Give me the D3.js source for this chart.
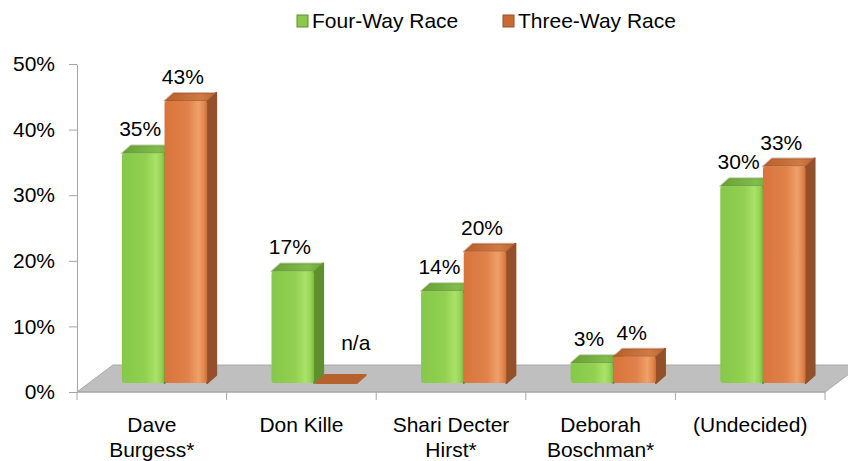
<!DOCTYPE html>
<html>
<head>
<meta charset="utf-8">
<script src="https://cdn.jsdelivr.net/npm/d3@7"></script>
<style>
  body { margin: 0; background: #fff; }
  text { font-family: "Liberation Sans", Arial, sans-serif; fill: #000; }
</style>
</head>
<body>
<script>
// chart values
var categories = ["Dave\nBurgess*", "Don Kille", "Shari Decter\nHirst*", "Deborah\nBoschman*", "(Undecided)"];
var seriesNames = ["Four-Way Race", "Three-Way Race"];
var fourWay = [0.35, 0.17, 0.14, 0.03, 0.30];
var threeWay = [0.43, null, 0.20, 0.04, 0.33];
var yTicks = [0, 0.1, 0.2, 0.3, 0.4, 0.5];

var width = 848, height = 461;
var plotLeft = 77, plotRight = 825, plotTop = 64, plotBottom = 392;
var depthX = 36, depthY = -27;   // floor depth
var barShiftY = -9;              // bars sit a bit behind the front plane
var bdx = 9, bdy = -8;           // bar depth

var svg = d3.select("body").append("svg")
    .attr("width", width).attr("height", height);

var defs = svg.append("defs");
function hGrad(id, stops) {
    var g = defs.append("linearGradient").attr("id", id)
        .attr("x1", "0%").attr("x2", "100%").attr("y1", "0%").attr("y2", "0%");
    stops.forEach(s => g.append("stop").attr("offset", s[0]).attr("stop-color", s[1]));
}
hGrad("gFront", [["0%", "#86c84a"], ["55%", "#92d050"], ["80%", "#aae26a"], ["92%", "#96d454"], ["100%", "#7ab842"]]);
hGrad("oFront", [["0%", "#d8743c"], ["55%", "#e0824a"], ["80%", "#f0a06a"], ["92%", "#e3884e"], ["100%", "#cc7038"]]);
hGrad("gTop", [["0%", "#68a034"], ["70%", "#82bc4c"], ["100%", "#6ea63a"]]);
hGrad("oTop", [["0%", "#b85e2a"], ["70%", "#d07a44"], ["100%", "#c06630"]]);

var colors = {
    "Four-Way Race": { front: "url(#gFront)", top: "url(#gTop)", side: "#5f8f2f", legend: "#8cc84c" },
    "Three-Way Race": { front: "url(#oFront)", top: "url(#oTop)", side: "#94502a", legend: "#c86a34" }
};

var x = d3.scaleBand().domain(categories).range([plotLeft, plotRight]);
var xs = d3.scaleBand().domain(seriesNames).range([x.bandwidth() * 0.3, x.bandwidth() * 0.87]);
var y = d3.scaleLinear().domain([0, 0.5]).range([plotBottom, plotTop]);

// floor
svg.append("path")
    .attr("d", d3.line()([[plotLeft, plotBottom], [plotRight, plotBottom], [plotRight + depthX, plotBottom + depthY], [plotLeft + depthX, plotBottom + depthY]]) + "Z")
    .attr("fill", "#bfbfbf")
    .attr("stroke", "#a8a8a8")
    .attr("stroke-width", 1);

// y axis
var yAxis = svg.append("g")
    .attr("transform", "translate(" + plotLeft + ",0)")
    .call(d3.axisLeft(y).tickValues(yTicks).tickFormat(d3.format(".0%")).tickSize(8).tickSizeOuter(0).tickPadding(14));
yAxis.select(".domain").attr("stroke", "#a6a6a6");
yAxis.selectAll(".tick line").attr("stroke", "#a6a6a6");
yAxis.selectAll(".tick text").attr("font-size", 21).attr("font-family", "Liberation Sans, Arial, sans-serif").attr("fill", "#000");

// x axis line + boundary ticks
svg.append("line")
    .attr("x1", plotLeft).attr("x2", plotRight).attr("y1", plotBottom).attr("y2", plotBottom)
    .attr("stroke", "#a6a6a6");
var bounds = categories.map(c => x(c)).concat([plotRight]);
svg.selectAll(".xtick").data(bounds).enter().append("line")
    .attr("x1", d => d).attr("x2", d => d)
    .attr("y1", plotBottom).attr("y2", plotBottom + 8)
    .attr("stroke", "#a6a6a6");

// x labels
var xl = svg.selectAll(".xlab").data(categories).enter().append("text")
    .attr("text-anchor", "middle")
    .attr("font-size", 21);
xl.each(function(d) {
    var lines = d.split("\n");
    var t = d3.select(this);
    lines.forEach((ln, i) => {
        t.append("tspan")
            .attr("x", x(d) + x.bandwidth() / 2)
            .attr("y", 432 + i * 25)
            .text(ln);
    });
});

// bars
var rows = [];
categories.forEach((c, i) => {
    rows.push({ cat: c, series: seriesNames[0], value: fourWay[i] });
    rows.push({ cat: c, series: seriesNames[1], value: threeWay[i] });
});

var base = plotBottom + barShiftY;
var bw = xs.bandwidth();

var bars = svg.selectAll(".bar").data(rows).enter().append("g");
bars.each(function(d) {
    var g = d3.select(this);
    var x0 = x(d.cat) + xs(d.series);
    var col = colors[d.series];
    if (d.value === null) {
        g.append("path")
            .attr("d", d3.line()([[x0 + 2, base], [x0 + bw, base], [x0 + bw + bdx, base + bdy], [x0 + bdx + 2, base + bdy]]) + "Z")
            .attr("fill", "#b5622e")
            .attr("stroke", "#b5622e").attr("stroke-linejoin", "round").attr("stroke-width", 2);
        return;
    }
    var yt = y(d.value) + barShiftY;
    // side
    g.append("path")
        .attr("d", d3.line()([[x0 + bw, yt], [x0 + bw + bdx, yt + bdy], [x0 + bw + bdx, base + bdy], [x0 + bw, base]]) + "Z")
        .attr("fill", col.side)
        .attr("stroke", col.side).attr("stroke-linejoin", "round").attr("stroke-width", 2);
    // top
    g.append("path")
        .attr("d", d3.line()([[x0, yt], [x0 + bw, yt], [x0 + bw + bdx, yt + bdy], [x0 + bdx, yt + bdy]]) + "Z")
        .attr("fill", col.top)
        .attr("stroke", col.side).attr("stroke-opacity", 0.4).attr("stroke-linejoin", "round").attr("stroke-width", 2);
    // front
    g.append("rect")
        .attr("x", x0).attr("y", yt)
        .attr("width", bw).attr("height", base - yt)
        .attr("rx", 3)
        .attr("fill", col.front);
});

// value labels
svg.selectAll(".vlab").data(rows).enter().append("text")
    .attr("text-anchor", "middle")
    .attr("font-size", 21)
    .attr("x", d => {
        var x0 = x(d.cat) + xs(d.series);
        return d.value === null ? x0 + bw - 1 : x0 + bw / 2 - 3;
    })
    .attr("y", d => d.value === null ? base - 33 : y(d.value) + barShiftY + bdy - 9)
    .text(d => d.value === null ? "n/a" : d3.format(".0%")(d.value));

// legend
var legX = [297, 503];
var leg = svg.selectAll(".leg").data(seriesNames).enter().append("g")
    .attr("transform", (d, i) => "translate(" + legX[i] + ",0)");
leg.append("rect")
    .attr("x", 0).attr("y", 15).attr("width", 11).attr("height", 12)
    .attr("fill", d => colors[d].legend)
    .attr("stroke", d => colors[d].side).attr("stroke-width", 1);
leg.append("text")
    .attr("x", 15).attr("y", 28)
    .attr("font-size", 21)
    .text(d => d);
</script>
</body>
</html>
